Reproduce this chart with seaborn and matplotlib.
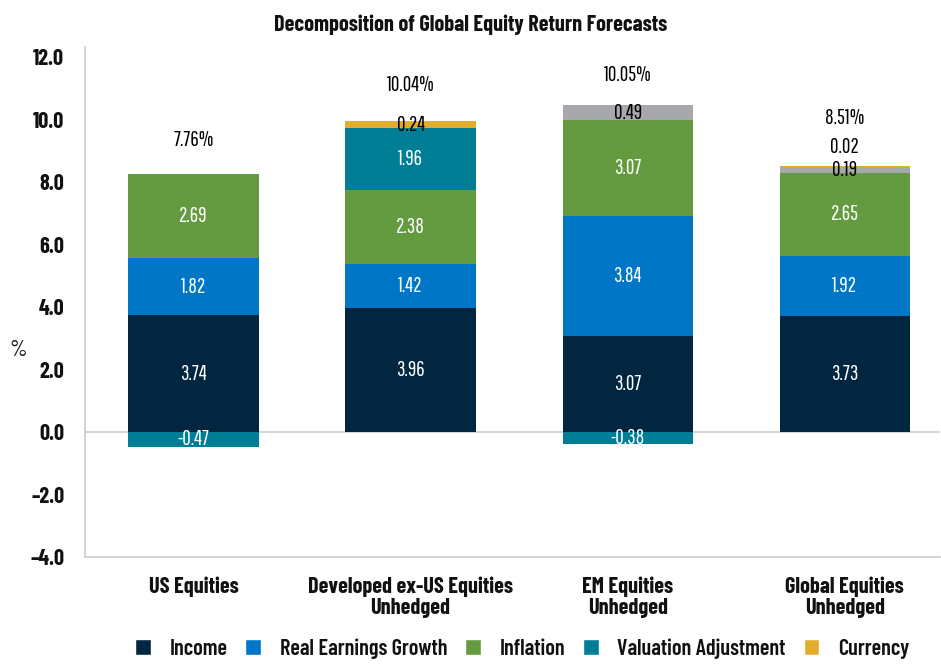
import numpy as np
import pandas as pd
import matplotlib
matplotlib.use("Agg")
import matplotlib.pyplot as plt
from matplotlib.patches import Patch
import seaborn as sb

# datos
categorias = ["US Equities", "Developed ex-US Equities\nUnhedged",
              "EM Equities\nUnhedged", "Global Equities\nUnhedged"]
income = [3.74, 3.96, 3.07, 3.73]
real_earnings = [1.82, 1.42, 3.84, 1.92]
inflation = [2.69, 2.38, 3.07, 2.65]
valuation = [-0.47, 1.96, -0.38, 0.0]
otro = [0.0, 0.0, 0.49, 0.19]          # segmento gris sin leyenda
currency = [0.0, 0.24, 0.0, 0.02]
totales = ["7.76%", "10.04%", "10.05%", "8.51%"]

series = ["Income", "Real Earnings Growth", "Inflation", "Valuation Adjustment", "Otro", "Currency"]
valores = [income, real_earnings, inflation, valuation, otro, currency]
colores = ["#02263f", "#0077c6", "#659b40", "#007e95", "#a7a8ab", "#e2ad2e"]
color_texto = ["white", "white", "white", "white", "black", "black"]

df = pd.DataFrame({s: v for s, v in zip(series, valores)})
df["cat"] = categorias

sb.set_style("white")
plt.rcParams["font.family"] = ["Barlow Condensed", "DejaVu Sans"]
fuente_num = ["Pathway Gothic One", "Barlow Condensed", "DejaVu Sans"]

fig = plt.figure(figsize=(9.41, 6.64), dpi=100)
ax = fig.add_axes([0.0903, 0.161, 0.909, 0.768])

# parte positiva: barras acumuladas superpuestas, de arriba hacia abajo
pos = df[series].clip(lower=0)
acum = pos.cumsum(axis=1)
for i in range(len(series) - 1, -1, -1):
    sb.barplot(x=df["cat"], y=acum[series[i]], color=colores[i], width=0.6,
               saturation=1, ax=ax, linewidth=0)
# parte negativa (solo valuation)
neg = df["Valuation Adjustment"].clip(upper=0)
sb.barplot(x=df["cat"], y=neg, color=colores[3], width=0.6, saturation=1, ax=ax, linewidth=0)

# etiquetas de los segmentos
tam = 15
for j in range(len(categorias)):
    base = 0.0
    for i, s in enumerate(series):
        v = df[s][j]
        if v > 0:
            yy = base + v + 0.6 if v < 0.1 else base + v / 2
            ax.text(j, yy, f"{v:.2f}", ha="center", va="center", fontsize=tam,
                    color=color_texto[i], family=fuente_num)
            base += v
        elif v < 0:
            ax.text(j, v / 2, f"{v:.2f}", ha="center", va="center", fontsize=tam,
                    color=color_texto[i], family=fuente_num)

# totales
tops = acum[series[-1]].values
desplaz = [1.1, 1.15, 0.95, 1.55]
for j, t in enumerate(totales):
    ax.text(j, tops[j] + desplaz[j], t, ha="center", va="center", fontsize=tam,
            color="black", family=fuente_num)

ax.set_ylim(-4, 12.32)
ax.set_xlim(-0.5, 3.44)
ticks = np.arange(-4, 12.1, 2)
ax.set_yticks(ticks)
ax.set_yticklabels(["\u2013" + f"{abs(t):.1f}" if t < 0 else f"{t:.1f}" for t in ticks])
ax.axhline(0, color="#cccccc", lw=1.2, zorder=0.5)
for lado in ["top", "right"]:
    ax.spines[lado].set_visible(False)
for lado in ["left", "bottom"]:
    ax.spines[lado].set_color("#cccccc")
    ax.spines[lado].set_linewidth(1.2)
ax.tick_params(axis="y", length=0, labelsize=16, pad=15, labelcolor="#111111")
ax.tick_params(axis="x", length=0, labelsize=16, pad=14, labelcolor="#111111")
for lbl in ax.get_xticklabels() + ax.get_yticklabels():
    lbl.set_fontweight("bold")
for lbl in ax.get_xticklabels():
    lbl.set_linespacing(1.05)
ax.set_xlabel("")
ax.set_ylabel("%", rotation=0, fontsize=16, va="center", ha="center", color="#111111")
ax.yaxis.set_label_coords(-0.078, 0.406)

fig.suptitle("Decomposition of Global Equity Return Forecasts", y=0.978, fontsize=16,
             fontweight="bold", color="#111111")

handles = [Patch(facecolor=colores[i], label=series[i]) for i in [0, 1, 2, 3, 5]]
fig.legend(handles=handles, loc="lower center", bbox_to_anchor=(0.555, -0.022), ncol=5, frameon=False,
           prop={"size": 16, "weight": 600}, handlelength=0.7, handleheight=0.7,
           columnspacing=0.8, handletextpad=0.85, labelcolor="#111111")

plt.savefig("out.png", dpi=100)
